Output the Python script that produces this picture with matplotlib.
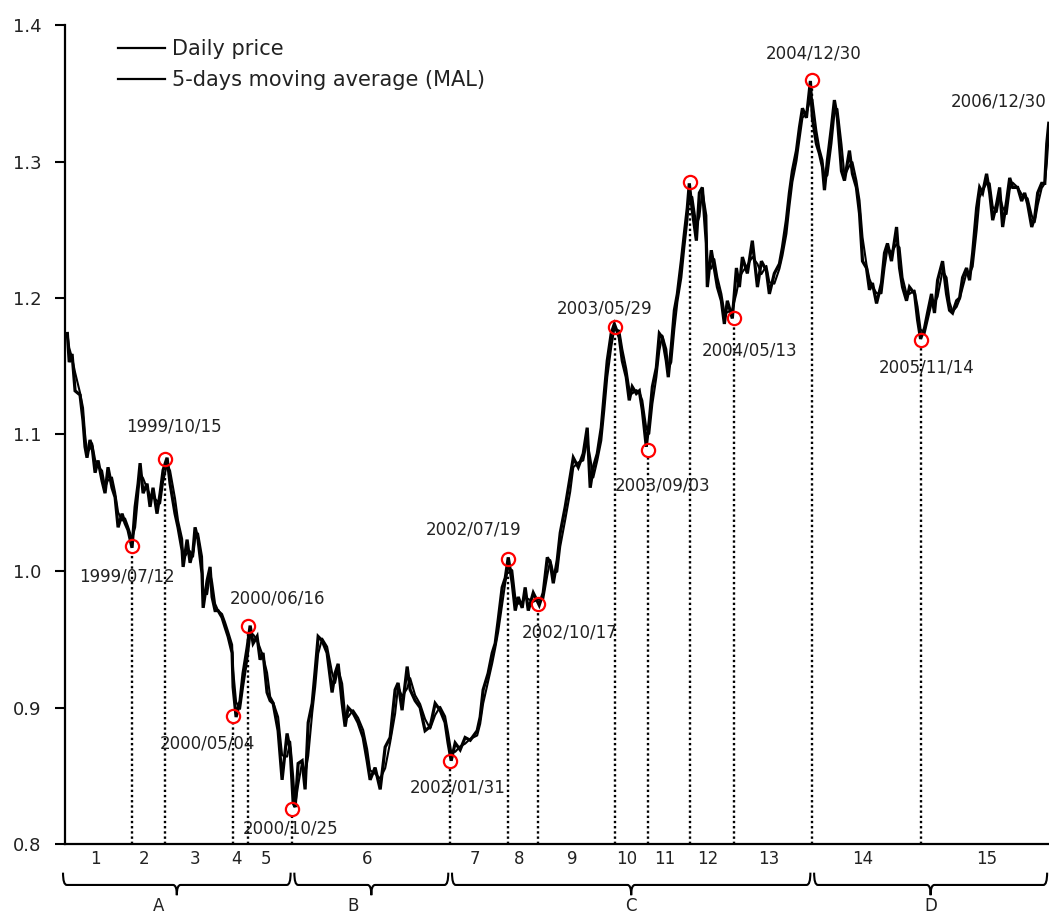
import numpy as np
import pandas as pd
import matplotlib
matplotlib.use("Agg")
import matplotlib.pyplot as plt
from matplotlib.path import Path
from matplotlib.patches import PathPatch
from matplotlib.lines import Line2D

# --- data (decimal year, EUR/USD) ---
# period A: 1999/01 - 2000/10
t_a = [1999.005, 1999.02, 1999.043, 1999.067, 1999.107, 1999.131, 1999.147, 1999.163, 1999.187, 1999.204,
       1999.228, 1999.252, 1999.284, 1999.308, 1999.332, 1999.364, 1999.389, 1999.413, 1999.445, 1999.469,
       1999.493, 1999.525, 1999.550, 1999.574, 1999.590, 1999.614, 1999.646, 1999.670, 1999.694, 1999.726,
       1999.751, 1999.775, 1999.807, 1999.831, 1999.871, 1999.895, 1999.928, 1999.936, 1999.968, 1999.992,
       2000.016, 2000.032, 2000.056, 2000.088, 2000.097, 2000.129, 2000.153, 2000.169, 2000.193, 2000.217,
       2000.249, 2000.273, 2000.298, 2000.330, 2000.338, 2000.362, 2000.394, 2000.418, 2000.451, 2000.475,
       2000.499, 2000.531, 2000.555, 2000.579, 2000.611, 2000.636, 2000.660, 2000.700, 2000.732, 2000.772,
       2000.797, 2000.821, 2000.837]
p_a = [1.174, 1.153, 1.159, 1.132, 1.129, 1.110, 1.091, 1.083, 1.096, 1.091,
       1.072, 1.081, 1.066, 1.057, 1.076, 1.061, 1.054, 1.032, 1.042, 1.035,
       1.030, 1.017, 1.047, 1.064, 1.079, 1.057, 1.064, 1.047, 1.061, 1.042,
       1.057, 1.074, 1.083, 1.064, 1.042, 1.032, 1.015, 1.003, 1.023, 1.006,
       1.015, 1.032, 1.023, 0.998, 0.973, 0.993, 1.003, 0.981, 0.971, 0.971,
       0.966, 0.959, 0.952, 0.940, 0.915, 0.893, 0.905, 0.925, 0.944, 0.960,
       0.947, 0.952, 0.935, 0.940, 0.911, 0.905, 0.903, 0.883, 0.847, 0.881,
       0.869, 0.830, 0.827]

# period B: 2000/10 - 2002/01
t_b = [2000.861, 2000.893, 2000.917, 2000.942, 2000.974, 2000.998, 2001.022, 2001.054, 2001.094, 2001.134,
       2001.158, 2001.183, 2001.215, 2001.239, 2001.263, 2001.303, 2001.343, 2001.384, 2001.416, 2001.440,
       2001.480, 2001.521, 2001.561, 2001.601, 2001.641, 2001.665, 2001.697, 2001.738, 2001.762, 2001.802,
       2001.842, 2001.882, 2001.923, 2001.963, 2002.003, 2002.043, 2002.067, 2002.092]
p_b = [0.859, 0.861, 0.840, 0.889, 0.903, 0.927, 0.952, 0.949, 0.940, 0.911,
       0.925, 0.932, 0.903, 0.886, 0.900, 0.896, 0.889, 0.878, 0.861, 0.847,
       0.856, 0.840, 0.871, 0.878, 0.913, 0.918, 0.898, 0.930, 0.913, 0.905,
       0.900, 0.883, 0.886, 0.903, 0.898, 0.889, 0.874, 0.861]

# period C: 2002/01 - 2004/12
t_c = [2002.124, 2002.164, 2002.204, 2002.245, 2002.301, 2002.325, 2002.349, 2002.389, 2002.422, 2002.446,
       2002.470, 2002.502, 2002.527, 2002.551, 2002.583, 2002.607, 2002.631, 2002.663, 2002.687, 2002.712,
       2002.752, 2002.800, 2002.832, 2002.865, 2002.889, 2002.913, 2002.945, 2002.969, 2003.009, 2003.049,
       2003.074, 2003.114, 2003.154, 2003.186, 2003.210, 2003.235, 2003.267, 2003.299, 2003.323, 2003.347,
       2003.379, 2003.404, 2003.444, 2003.468, 2003.500, 2003.524, 2003.548, 2003.581, 2003.605, 2003.629,
       2003.661, 2003.685, 2003.710, 2003.742, 2003.766, 2003.790, 2003.822, 2003.838, 2003.862, 2003.887,
       2003.911, 2003.943, 2003.967, 2003.991, 2004.007, 2004.031, 2004.064, 2004.088, 2004.112, 2004.144,
       2004.152, 2004.184, 2004.208, 2004.233, 2004.265, 2004.289, 2004.313, 2004.353, 2004.386, 2004.410,
       2004.434, 2004.474, 2004.514, 2004.555, 2004.587, 2004.627, 2004.651, 2004.691, 2004.732, 2004.756,
       2004.788, 2004.812, 2004.836, 2004.869, 2004.893, 2004.917, 2004.949, 2004.981]
p_c = [0.874, 0.869, 0.878, 0.876, 0.883, 0.893, 0.913, 0.925, 0.940, 0.947,
       0.964, 0.988, 0.995, 1.010, 0.991, 0.971, 0.981, 0.973, 0.988, 0.971,
       0.984, 0.975, 0.984, 1.010, 1.006, 0.991, 1.008, 1.028, 1.047, 1.069,
       1.083, 1.076, 1.086, 1.105, 1.061, 1.076, 1.086, 1.105, 1.130, 1.154,
       1.174, 1.181, 1.171, 1.154, 1.142, 1.125, 1.135, 1.130, 1.132, 1.118,
       1.091, 1.110, 1.135, 1.149, 1.174, 1.171, 1.154, 1.142, 1.164, 1.191,
       1.203, 1.227, 1.247, 1.266, 1.284, 1.264, 1.242, 1.277, 1.281, 1.240,
       1.208, 1.235, 1.222, 1.208, 1.198, 1.181, 1.198, 1.185, 1.222, 1.208,
       1.230, 1.218, 1.242, 1.208, 1.227, 1.220, 1.203, 1.218, 1.225, 1.237,
       1.257, 1.277, 1.293, 1.308, 1.325, 1.339, 1.332, 1.359]

# period D: 2004/12 - 2006/12
t_d = [2004.997, 2005.029, 2005.053, 2005.078, 2005.094, 2005.118, 2005.150, 2005.174, 2005.198, 2005.231,
       2005.255, 2005.295, 2005.319, 2005.351, 2005.376, 2005.400, 2005.432, 2005.456, 2005.480, 2005.513,
       2005.553, 2005.577, 2005.601, 2005.633, 2005.674, 2005.698, 2005.722, 2005.754, 2005.778, 2005.819,
       2005.843, 2005.867, 2005.899, 2005.923, 2005.955, 2005.979, 2006.004, 2006.044, 2006.076, 2006.100,
       2006.124, 2006.157, 2006.181, 2006.205, 2006.237, 2006.261, 2006.286, 2006.318, 2006.342, 2006.366,
       2006.398, 2006.423, 2006.447, 2006.479, 2006.503, 2006.527, 2006.559, 2006.584, 2006.608, 2006.648,
       2006.680, 2006.704, 2006.728, 2006.761, 2006.785, 2006.809, 2006.841, 2006.866, 2006.882, 2006.898]
p_d = [1.332, 1.313, 1.306, 1.296, 1.279, 1.301, 1.325, 1.345, 1.332, 1.293,
       1.286, 1.308, 1.291, 1.281, 1.262, 1.227, 1.222, 1.206, 1.211, 1.196,
       1.211, 1.233, 1.240, 1.227, 1.252, 1.222, 1.208, 1.198, 1.208, 1.203,
       1.184, 1.170, 1.178, 1.189, 1.203, 1.189, 1.213, 1.227, 1.203, 1.191,
       1.189, 1.198, 1.200, 1.215, 1.222, 1.213, 1.233, 1.266, 1.281, 1.277,
       1.291, 1.277, 1.257, 1.269, 1.281, 1.252, 1.271, 1.288, 1.281, 1.281,
       1.271, 1.277, 1.269, 1.252, 1.259, 1.277, 1.284, 1.284, 1.313, 1.328]

# turning points (red circles)
tp_dates = ["1999/07/12", "1999/10/15", "2000/05/04", "2000/06/16", "2000/10/25", "2002/01/31",
            "2002/07/19", "2002/10/17", "2003/05/29", "2003/09/03", "2004/01/05", "2004/05/13",
            "2004/12/30", "2005/11/14"]
tp_values = [1.018, 1.082, 0.894, 0.960, 0.826, 0.861, 1.009, 0.976, 1.179, 1.089, 1.285, 1.185,
             1.360, 1.169]
tp_show_label = [True] * 10 + [False] + [True] * 3
end_label = "2006/12/30"
end_label_value = 1.344

segment_names = [str(i) for i in range(1, 16)]
period_names = ["A", "B", "C", "D"]
period_ends = ["2000/10/25", "2002/01/31", "2004/12/30"]

# label offsets in pixels (dx, dy) from the circle
label_off = [(-5, -30), (9, 33), (-26, -28), (30, 27), (-2, -20), (8, -27), (-34, 29),
             (31, -29), (-10, 18), (15, -36), (0, 0), (16, -32), (1, 26), (6, -27)]


def dec_year(s):
    d = pd.Timestamp(s.replace("/", "-"))
    n = 366 if d.is_leap_year else 365
    return d.year + (d.dayofyear - 0.5) / n


t = np.array(t_a + t_b + t_c + t_d)
p = np.array(p_a + p_b + p_c + p_d)
ma = pd.Series(p).rolling(2, min_periods=1).mean()

X0, X1 = 1998.986, 2006.90
TXT = "#222222"

fig = plt.figure(figsize=(10.49, 9.13), dpi=100)
ax = fig.add_axes([65 / 1049, 69 / 913, 984 / 1049, 819 / 913])
ax.set_xlim(X0, X1)
ax.set_ylim(0.8, 1.4)

ax.plot(t, p, color="black", lw=2.3, zorder=3, solid_joinstyle="miter")
ax.plot(t, ma, color="black", lw=1.5, zorder=3)

tp_x = np.array([dec_year(d) for d in tp_dates])
tp_y = np.array(tp_values)
ax.vlines(tp_x, 0.8, tp_y - 0.0048, colors="black", linestyles=(0, (1, 1.2)), lw=1.7, zorder=2)
ax.plot(tp_x, tp_y, "o", ms=9.5, mfc="none", mec="red", mew=1.6, zorder=5)

for x, y, lab, show, (dx, dy) in zip(tp_x, tp_y, tp_dates, tp_show_label, label_off):
    if show:
        ax.annotate(lab, (x, y), xytext=(dx, dy), textcoords="offset pixels",
                    ha="center", va="center", fontsize=12, color=TXT, zorder=6)
ax.annotate(end_label, (1.0, end_label_value), xycoords=("axes fraction", "data"),
            xytext=(-2, 0), textcoords="offset pixels", ha="right", va="center",
            fontsize=12, color=TXT, annotation_clip=False)

# axes styling
for s in ["top", "right"]:
    ax.spines[s].set_visible(False)
for s in ["left", "bottom"]:
    ax.spines[s].set_linewidth(1.6)
ax.set_xticks([])
ax.set_yticks(np.arange(0.8, 1.41, 0.1))
ax.set_yticklabels([f"{v:.1f}" for v in np.arange(0.8, 1.41, 0.1)])
ax.tick_params(axis="y", length=7, width=1.5, direction="out", labelsize=13, pad=10,
               labelcolor=TXT)

# legend
handles = [Line2D([], [], color="black", lw=1.6), Line2D([], [], color="black", lw=1.6)]
ax.legend(handles, ["Daily price", "5-days moving average (MAL)"], loc="upper left",
          bbox_to_anchor=(0.054, 0.983), frameon=False, fontsize=15, handlelength=2.25,
          handletextpad=0.35, labelspacing=0.55, borderpad=0, borderaxespad=0, labelcolor=TXT)

# segment numbers under the axis
bounds = [1999.0] + list(tp_x) + [2007.0]
trans = ax.get_xaxis_transform()
for i, name in enumerate(segment_names):
    xm = (bounds[i] + bounds[i + 1]) / 2 - 0.035
    ax.text(xm, -0.0183, name, transform=trans, ha="center", va="center",
            fontsize=12, color=TXT, clip_on=False)

# braces for periods A-D
p_bounds = [1999.0 - 0.03] + [dec_year(d) for d in period_ends] + [X1]
yt, yl, yd, r = -0.035, -0.050, -0.0625, 0.03


def brace(xa, xb):
    xm = (xa + xb) / 2
    verts = [(xa, yt), (xa, yl), (xa + r, yl), (xm - r, yl), (xm, yl), (xm, yd),
             (xm, yl), (xm + r, yl), (xb - r, yl), (xb, yl), (xb, yt)]
    codes = [Path.MOVETO, Path.CURVE3, Path.CURVE3, Path.LINETO, Path.CURVE3, Path.CURVE3,
             Path.CURVE3, Path.CURVE3, Path.LINETO, Path.CURVE3, Path.CURVE3]
    patch = PathPatch(Path(verts, codes), transform=trans, fill=False, lw=1.5,
                      edgecolor="black", clip_on=False)
    ax.add_patch(patch)
    return xm


for i, name in enumerate(period_names):
    xa = p_bounds[i] + (0.015 if i > 0 else 0)
    xb = p_bounds[i + 1] - 0.015
    xm = brace(xa, xb)
    ax.text(xm - (0.15 if i < 2 else 0), -0.0815, name, transform=trans, ha="center",
            va="baseline", fontsize=12, color=TXT, clip_on=False)

fig.savefig("out.png", dpi=100)
